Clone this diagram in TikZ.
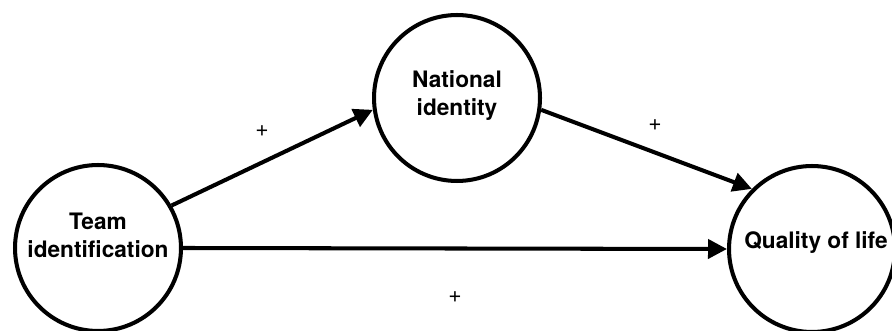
\documentclass[tikz,border=0pt]{standalone}
\usepackage{fontspec}
\setmainfont{TeX Gyre Heros}
\usetikzlibrary{arrows.meta,positioning,calc}
\tikzset{
  construct/.style={circle, draw=black, line width=2.3pt, fill=white,
    minimum size=3.32cm, inner sep=0pt},
  constructtext/.style={align=center, inner sep=0pt,
    font=\fontsize{12.9}{15.9}\selectfont\bfseries},
  sign/.style={font=\fontsize{13}{15}\selectfont, inner sep=0pt},
  arr/.style={-{Triangle[length=0.38cm,width=0.38cm]}, line width=2.3pt, black}
}
\begin{document}
\begin{tikzpicture}[x=0.02cm, y=0.02cm]
  \useasboundingbox (0,0) rectangle (892,331);
  % constructs
  \node[construct] (team) at (98,83) {};
  \node[construct] (national) at (457,233) {};
  \node[construct] (quality) at (812,82) {};
  \node[constructtext] (teamtext) at ($(team)+(0,13)$) {Team\\identification};
  \node[constructtext] (nationaltext) at ($(national)+(0,2)$) {National\\identity};
  \node[constructtext] (qualitytext) at ($(quality)+(4,6)$) {Quality of life};
  % paths
  \draw[arr] (team.30) -- (national.188);
  \draw[arr] (national.352) -- (quality.135);
  \draw[arr] (team.east) -- (quality.west);
  \node[sign] (plusa) at (262,200) {+};
  \node[sign] (plusb) at (655,206) {+};
  \node[sign] (plusc) at (455,34) {+};
\end{tikzpicture}
\end{document}
